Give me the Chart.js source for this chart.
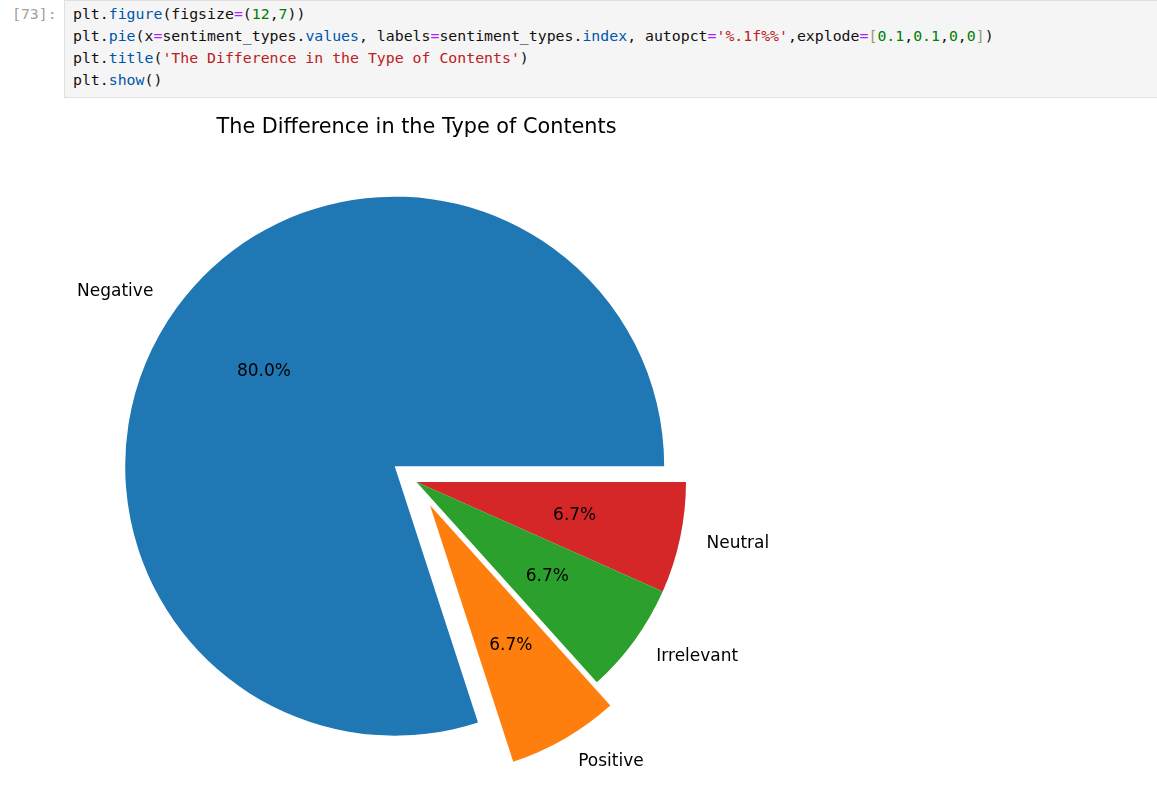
<!DOCTYPE html>
<html>
<head>
<meta charset="utf-8">
<script src="https://cdn.jsdelivr.net/npm/chart.js@4/dist/chart.umd.min.js"></script>
<style>
  html, body { margin: 0; padding: 0; background: #fff; }
  body { width: 1157px; height: 801px; position: relative; overflow: hidden; }
  .prompt { position: absolute; left: 12px; top: 2.5px; font: 14.85px "DejaVu Sans Mono", monospace; line-height: 22.2px; color: #a0a0a0; white-space: pre; }
  .code { position: absolute; left: 64px; top: 0px; width: 1100px; height: 98px; background: #f5f5f5; border: 1px solid #e0e0e0; box-sizing: border-box; padding: 1.5px 0 0 8px; font: 14.85px "DejaVu Sans Mono", monospace; line-height: 22.2px; color: #111; white-space: pre; }
  .p { color: #0055aa; } .o { color: #aa22ff; } .n { color: #008000; } .s { color: #ba2121; } .b { color: #999977; }
  #chart { position: absolute; left: 0; top: 100px; }
</style>
</head>
<body>
<div class="prompt">[73]:</div>
<div class="code">plt.<span class="p">figure</span>(figsize<span class="o">=</span>(<span class="n">12</span>,<span class="n">7</span>))
plt.<span class="p">pie</span>(x<span class="o">=</span>sentiment_types.<span class="p">values</span>, labels<span class="o">=</span>sentiment_types.<span class="p">index</span>, autopct<span class="o">=</span><span class="s">'%.1f%%'</span>,explode<span class="o">=</span><span class="b">[</span><span class="n">0.1</span>,<span class="n">0.1</span>,<span class="n">0</span>,<span class="n">0</span><span class="b">]</span>)
plt.<span class="p">title</span>(<span class="s">'The Difference in the Type of Contents'</span>)
plt.<span class="p">show</span>()</div>
<canvas id="chart" width="1157" height="701"></canvas>
<script>
// ---- data ----
const categories = ['Negative', 'Positive', 'Irrelevant', 'Neutral'];
const counts = [12, 1, 1, 1];
const explode = [0.1, 0.1, 0, 0];
const colors = ['#1f77b4', '#ff7f0e', '#2ca02c', '#d62728'];
const chartTitle = 'The Difference in the Type of Contents';

// matplotlib draws counter-clockwise from 3 o'clock; Chart.js draws clockwise,
// so feed the series in reverse order and start at 3 o'clock.
const rev = a => a.slice().reverse();
const cLabels = rev(categories);
const cCounts = rev(counts);
const cExplode = rev(explode);
const cColors = rev(colors);
const total = counts.reduce((a, b) => a + b, 0);

const RADIUS = 269.5;
const LABEL_FONT = '17px "DejaVu Sans"';
const TITLE_FONT = '20.8px "DejaVu Sans"';

const explodePlugin = {
  id: 'explodePlugin',
  beforeDatasetsDraw(chart) {
    const meta = chart.getDatasetMeta(0);
    meta.data.forEach((arc, i) => {
      if (arc.__wrapped) return;
      const orig = Object.getPrototypeOf(arc).draw;
      arc.draw = function (ctx, area) {
        const mid = (this.startAngle + this.endAngle) / 2;
        const d = cExplode[i] * this.outerRadius;
        ctx.save();
        ctx.translate(Math.cos(mid) * d, Math.sin(mid) * d);
        orig.call(this, ctx, area);
        ctx.restore();
      };
      arc.__wrapped = true;
    });
  },
  afterDatasetsDraw(chart) {
    const ctx = chart.ctx;
    const meta = chart.getDatasetMeta(0);
    ctx.save();
    ctx.fillStyle = '#000';
    ctx.font = LABEL_FONT;
    ctx.textBaseline = 'middle';
    meta.data.forEach((arc, i) => {
      const p = arc.getProps(['x', 'y', 'startAngle', 'endAngle', 'outerRadius'], true);
      const mid = (p.startAngle + p.endAngle) / 2;
      const c = Math.cos(mid), s = Math.sin(mid);
      const d = cExplode[i] * p.outerRadius;
      const cx = p.x + c * d, cy = p.y + s * d;
      const lr = 1.1 * p.outerRadius, pr = 0.6 * p.outerRadius;
      ctx.textAlign = c > 0 ? 'left' : 'right';
      ctx.fillText(cLabels[i], cx + c * lr + (c > 0 ? 0 : -1.5), cy + s * lr);
      ctx.textAlign = 'center';
      const pct = (cCounts[i] / total * 100).toFixed(1) + '%';
      ctx.fillText(pct, cx + c * pr, cy + s * pr);
    });
    // title
    ctx.font = TITLE_FONT;
    ctx.textAlign = 'center';
    ctx.textBaseline = 'alphabetic';
    ctx.fillText(chartTitle, 416.5, 33);
    ctx.restore();
  }
};

new Chart(document.getElementById('chart'), {
  type: 'pie',
  data: {
    labels: cLabels,
    datasets: [{
      data: cCounts,
      backgroundColor: cColors,
      borderWidth: 0,
      hoverOffset: 0
    }]
  },
  options: {
    responsive: false,
    animation: false,
    events: [],
    rotation: 90,
    radius: RADIUS,
    layout: { padding: { left: 0, right: 324, top: 63, bottom: 0 } },
    plugins: { legend: { display: false }, tooltip: { enabled: false }, title: { display: false } }
  },
  plugins: [explodePlugin]
});
</script>
</body>
</html>
